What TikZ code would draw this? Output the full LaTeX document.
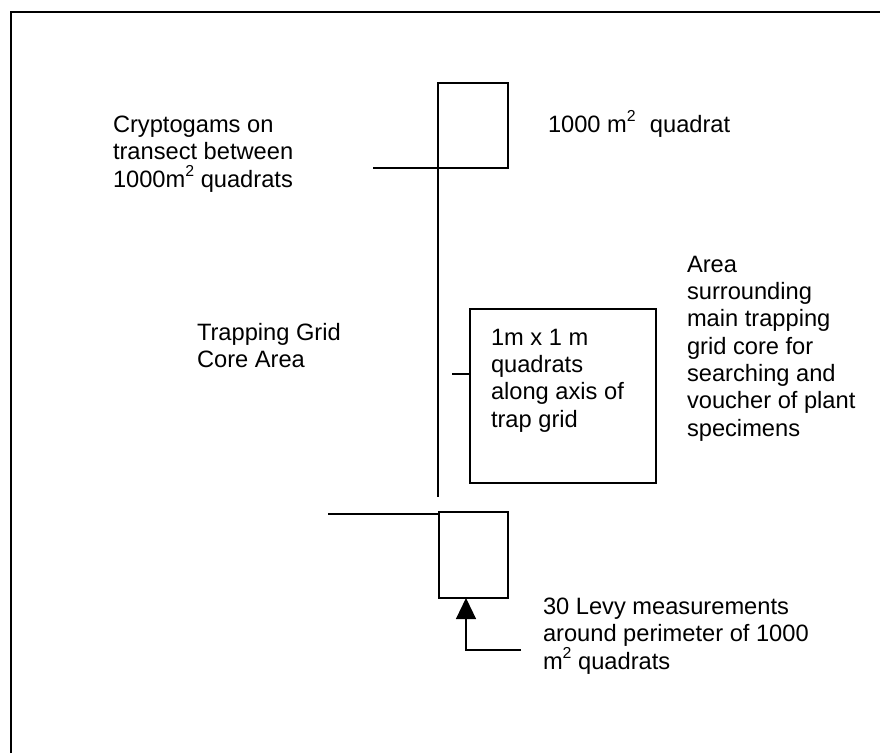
\documentclass[tikz,border=0pt]{standalone}
\usepackage{fontspec}
\setmainfont{Liberation Sans}
\usetikzlibrary{arrows.meta}
\newcommand\mysq{\raisebox{0.45em}{\fontsize{11.9}{11.9}\selectfont 2}}
\begin{document}
\begin{tikzpicture}[x=0.75pt,y=-0.75pt,
  box/.style={draw, line width=0.9pt, inner sep=0pt, outer sep=0pt},
  lbl/.style={inner sep=0pt, outer sep=0pt, align=left, anchor=north west, font=\fontsize{17.75}{20.5}\selectfont},
  ln/.style={line width=0.9pt}]
\useasboundingbox (0,0) rectangle (880,753);
\fill[white] (0,0) rectangle (880,753);
\draw[line width=1.3pt] (11,753) -- (11,12) -- (880,12);
% shapes
\node[box, minimum width=70*0.75pt, minimum height=85*0.75pt] (q1) at (473,125.5) {};
\node[box, minimum width=186*0.75pt, minimum height=174*0.75pt] (mid) at (563,396) {};
\node[box, minimum width=69*0.75pt, minimum height=86*0.75pt] (q2) at (473.5,555) {};
% texts
\node[lbl] (midtxt) at (491,329) {1m x 1 m\\quadrats\\along axis of\\trap grid};
\node[lbl] (crypt) at (113,116) {Cryptogams on\\transect between\\1000m\mysq\ quadrats};
\node[lbl, anchor=base west] (q1lbl) at (548,132) {1000 m\mysq\hspace{0.6em}quadrat};
\node[lbl] (core) at (197,323) {Trapping Grid\\Core Area};
\node[lbl] (area) at (687,256) {Area\\surrounding\\main trapping\\grid core for\\searching and\\voucher of plant\\specimens};
\node[lbl] (levy) at (543,598) {30 Levy measurements\\around perimeter of 1000\\m\mysq\ quadrats};
% connectors
\coordinate (c1) at (373,168);
\coordinate (v1) at (438,497);
\draw[ln] (c1) -- (q1.south west) -- (v1);
\coordinate (t1) at (452,374);
\draw[ln] (t1) -- (t1 -| mid.west);
\coordinate (c2) at (328,514);
\draw[ln] (c2) -- (c2 -| q2.west);
\coordinate (a0) at (521,650);
\coordinate (a1) at (466,650);
\draw[ln, -{Triangle[length=15.75pt,width=15pt]}] (a0) -- (a1) -- (a1 |- q2.south);
\end{tikzpicture}
\end{document}
